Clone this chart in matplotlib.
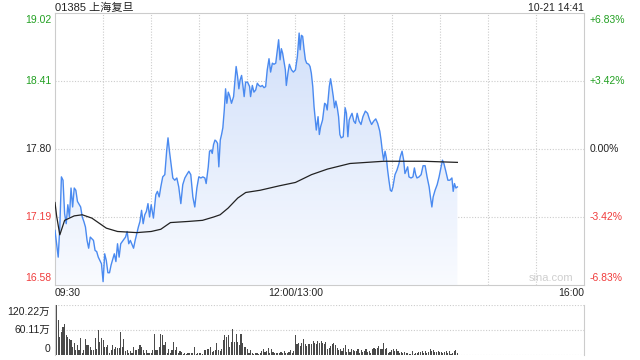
import numpy as np
import matplotlib.pyplot as plt
import matplotlib.transforms as mtransforms
from matplotlib.colors import LinearSegmentedColormap

plt.rcParams['font.family'] = ['Liberation Sans', 'Noto Sans CJK SC']

# 分时价格 (交易分钟, 价格)
price_t = [0, 2, 3, 4, 5, 6, 7, 8, 9, 10, 11, 12, 13, 14, 16, 17, 18, 19, 20, 21, 22, 24, 25, 26, 27,
           29, 30, 31, 32, 33, 34, 35, 37, 38, 39, 40, 41, 42, 44, 45, 46, 47, 49, 50, 51, 52, 53, 54,
           55, 56, 57, 58, 59,
           60.0, 61.4, 62.9, 63.9, 65.0, 66.0, 67.2, 68.5, 69.7, 70.5, 71.4, 72.6, 73.5, 74.7, 76.0,
           77.2, 78.5, 79.7, 81.0, 82.2, 83.5, 84.7, 86.0, 87.2, 88.5, 89.7, 91.0, 92.2, 93.5, 94.3,
           95.6, 96.4, 97.3, 98.1, 98.9, 99.8, 100.6, 101.4, 102.2, 103.1, 103.9, 104.7, 105.6, 106.4,
           107.2, 108.1, 108.9, 110.1, 111.4, 112.2, 113.0, 113.9, 114.7, 115.5, 116.4, 117.2, 118.0,
           118.9, 120.1, 121.4,
           122.0, 123.1, 124.1, 125.2, 126.2, 127.2, 128.3, 129.3, 130.4, 131.4, 132.4, 133.5, 134.5,
           135.6, 136.6, 137.7, 138.7, 139.5, 140.4, 141.2, 142.0, 142.9, 143.7, 144.3, 145.4, 146.2,
           147.5, 148.7, 150.0, 151.2, 152.3, 152.9, 153.7, 154.5, 155.4, 156.2, 157.0, 158.3, 159.1,
           159.9, 160.8, 161.6, 162.4, 163.0, 164.1, 164.9, 165.7, 166.9, 168.2, 169.0, 169.8, 171.1,
           171.9, 172.7, 173.6, 174.4, 175.2, 176.1, 176.9, 177.7, 178.5, 179.8, 181.0, 181.8, 182.7,
           183.5,
           184.3, 185.3, 186.4, 187.4, 188.5, 189.7, 190.9, 192.1, 193.6, 195.0, 196.3, 197.5, 198.8,
           200.1, 201.3, 202.6, 203.4, 204.2, 205.0, 205.9, 206.7, 207.5, 208.3, 209.2, 210.0, 210.8,
           212.1, 213.3, 214.6, 215.4, 216.5, 217.5, 218.3, 219.2, 220.0, 220.8, 222.1, 223.3, 224.2,
           225.0, 225.8, 227.1, 228.4, 229.6, 230.9, 232.1, 233.4, 234.2, 235.1, 235.9, 237.1, 238.4,
           239.6, 240.9, 241.7, 242.6, 243.8, 245.1, 246.3, 247.6, 248.4, 249.2, 250.1, 251.0]
price = [17.07, 16.83, 17.10, 17.55, 17.52, 17.22, 17.13, 17.30, 17.19, 17.45, 17.28, 17.45, 17.43,
         17.33, 17.28, 17.19, 17.15, 17.10, 16.98, 16.91, 17.01, 16.98, 16.89, 16.88, 16.83, 16.77,
         16.61, 16.86, 16.80, 16.69, 16.69, 16.76, 16.86, 16.79, 16.95, 16.83, 16.95, 16.97, 17.01,
         17.06, 16.95, 16.98, 16.91, 16.98, 17.04, 17.10, 17.15, 17.25, 17.13, 17.21, 17.24, 17.31,
         17.19,
         17.30, 17.18, 17.39, 17.42, 17.37, 17.46, 17.55, 17.57, 17.79, 17.90, 17.78, 17.64, 17.54,
         17.52, 17.54, 17.46, 17.31, 17.48, 17.54, 17.57, 17.60, 17.57, 17.37, 17.28, 17.45, 17.55,
         17.54, 17.55, 17.54, 17.49, 17.64, 17.78, 17.79, 17.76, 17.84, 17.88, 17.87, 17.85, 17.64,
         17.88, 17.93, 17.99, 18.15, 18.34, 18.21, 18.31, 18.28, 18.21, 18.27, 18.40, 18.54, 18.45,
         18.34, 18.42, 18.46, 18.37, 18.27, 18.40, 18.40, 18.36,
         18.27, 18.37, 18.31, 18.33, 18.39, 18.37, 18.36, 18.37, 18.35, 18.36, 18.51, 18.61, 18.49,
         18.57, 18.56, 18.57, 18.69, 18.78, 18.60, 18.70, 18.66, 18.58, 18.51, 18.37, 18.49, 18.56,
         18.51, 18.49, 18.51, 18.63, 18.84, 18.69, 18.82, 18.81, 18.69, 18.60, 18.57, 18.56, 18.54,
         18.48, 18.36, 18.18, 18.06, 17.97, 18.09, 17.93, 18.00, 18.06, 18.21, 18.20, 18.15, 18.36,
         18.43, 18.36, 18.27, 18.17, 18.23, 18.17, 18.09, 17.93, 17.90, 17.91, 18.17, 18.12, 17.91,
         18.06,
         18.09, 18.12, 18.05, 18.03, 18.12, 18.05, 18.02, 18.09, 18.14, 18.12, 18.06, 18.02, 18.05,
         18.07, 18.03, 17.96, 17.88, 17.78, 17.70, 17.78, 17.72, 17.61, 17.52, 17.43, 17.42, 17.46,
         17.57, 17.61, 17.67, 17.73, 17.78, 17.70, 17.58, 17.61, 17.64, 17.55, 17.54, 17.55, 17.63,
         17.57, 17.54, 17.55, 17.57, 17.65, 17.65, 17.55, 17.46, 17.37, 17.28, 17.37, 17.43, 17.48,
         17.55, 17.64, 17.70, 17.67, 17.60, 17.52, 17.52, 17.54, 17.42, 17.49, 17.45, 17.46]

# 均价线
avg_t = [0, 1, 3, 6, 12, 17, 23, 28, 32, 39, 51, 60, 66, 72, 83, 92, 99, 103, 108, 114, 119, 128,
         140, 150, 160, 170, 184, 205, 230, 251]
avg_p = [17.32, 17.20, 17.03, 17.16, 17.20, 17.21, 17.18, 17.13, 17.09, 17.06, 17.05, 17.06, 17.08,
         17.14, 17.15, 17.16, 17.19, 17.21, 17.27, 17.36, 17.41, 17.43, 17.47, 17.50, 17.57, 17.62,
         17.67, 17.69, 17.69, 17.68]

# 成交量 (万股), 每分钟一根
volume = [84, 120, 84, 43, 55, 67, 74, 47, 43, 39,
          37, 19, 28, 11, 23, 12, 41, 6, 12, 39,
          23, 25, 20, 11, 11, 41, 15, 59, 31, 41,
          37, 19, 19, 25, 6, 12, 23, 15, 19, 17,
          17, 55, 19, 39, 9, 12, 6, 9, 6, 19,
          11, 12, 15, 25, 19, 12, 6, 12, 4, 5,
          6, 11, 51, 12, 11, 19, 51, 47, 23, 31,
          6, 15, 4, 11, 31, 12, 19, 6, 9, 8, 3, 5,
          2, 4, 6, 6, 6, 19, 2, 4, 6, 4,
          2, 12, 12, 15, 15, 19, 8, 10, 12, 28, 12, 9,
          15, 35, 47, 43, 47, 20, 31, 63, 31, 50,
          31, 23, 50, 28, 19, 20, 15, 6, 11, 6,
          2, 5, 4,
          2, 6, 10, 14, 8, 10, 18, 6, 14, 8, 6, 4, 6, 6, 8, 6, 10, 4, 6, 8, 12, 6, 10,
          47, 26, 30, 22, 30, 38, 26, 22, 26, 26, 26, 34, 30, 26, 34, 30,
          34, 30, 26, 32, 14, 18, 22, 26, 28, 24,
          16, 11, 14, 10, 18, 24, 8, 14, 8, 14, 12, 9,
          10, 14, 6, 11, 8, 10, 14, 8, 10, 6,
          14, 18, 14, 18, 22, 14, 14, 30, 14, 18, 5, 7,
          11, 14, 10, 14, 10, 6, 8, 6, 8, 6,
          6, 3, 3, 10, 3, 6, 6, 8, 8, 10, 4, 9,
          6, 8, 14, 10, 11, 8, 8, 10, 8, 7, 6, 8,
          10, 6, 10, 3, 6, 10, 11, 6]

price_ticks = [16.58, 17.19, 17.80, 18.41, 19.02]
price_labels = ['16.58', '17.19', '17.80', '18.41', '19.02']
pct_labels = ['-6.83%', '-3.42%', '0.00%', '+3.42%', '+6.83%']
tick_colors = ['#f03c3c', '#f03c3c', '#222222', '#22a022', '#22a022']
time_ticks = [0, 150, 330]
time_labels = ['09:30', '12:00/13:00', '16:00']
vol_ticks = [0, 60.11, 120.22]
vol_labels = ['0', '60.11万', '120.22万']

grid_c = '#cccccc'
fig = plt.figure(figsize=(6.4, 3.6), dpi=100)
ax = fig.add_axes([55/640, 75/360, 529/640, 272/360])
vx = fig.add_axes([55/640, 5/360, 529/640, 50/360])

ax.set_xlim(0, 330)
ax.set_ylim(16.58, 19.02)
for s in ax.spines.values():
    s.set_color(grid_c)
    s.set_linewidth(0.8)
ax.set_xticks([])
ax.set_yticks([])
for y in price_ticks[1:-1]:
    ax.axhline(y, color=grid_c, lw=0.8, ls=(0, (1, 1.5)), zorder=0)
for x in range(30, 330, 30):
    ax.axvline(x, color=grid_c, lw=0.8, ls=(0, (1, 1.5)), zorder=0)

# 渐变填充
poly = ax.fill_between(price_t, price, 16.58, color='none', lw=0)
cmap = LinearSegmentedColormap.from_list('fill', ['#f9fbff', '#cfdef9'])
grad = np.linspace(0, 1, 256).reshape(-1, 1)
img = ax.imshow(grad, extent=[0, 330, 16.58, 19.02], aspect='auto', cmap=cmap,
                origin='lower', zorder=1)
img.set_clip_path(poly.get_paths()[0], transform=ax.transData)

ax.plot(price_t, price, color='#4a8af0', lw=1.0, zorder=3)
ax.plot(avg_t, avg_p, color='#222222', lw=0.9, zorder=4)

# 左右刻度文字
ytr = ax.get_yaxis_transform()
for i, (y, lab, pct, c) in enumerate(zip(price_ticks, price_labels, pct_labels, tick_colors)):
    va = 'top' if i == len(price_ticks) - 1 else ('bottom' if i == 0 else 'center')
    dy = -2 if va == 'top' else (2 if va == 'bottom' else 0)
    tl = mtransforms.offset_copy(ytr, fig=fig, x=-4, y=dy, units='dots')
    tr = mtransforms.offset_copy(ytr, fig=fig, x=6, y=dy, units='dots')
    ax.text(0, y, lab, color=c, ha='right', va=va, fontsize=7.5, transform=tl)
    ax.text(1, y, pct, color=c, ha='left', va=va, fontsize=7.5, transform=tr)

xtr = mtransforms.offset_copy(ax.get_xaxis_transform(), fig=fig, y=-8, units='dots')
for x, lab in zip(time_ticks, time_labels):
    ha = 'left' if x == 0 else ('right' if x == 330 else 'center')
    ax.text(x, 0, lab, ha=ha, va='center', fontsize=7.5, color='#222222', transform=xtr)

ax.text(0.98, 0.008, 'sina.com', transform=ax.transAxes, ha='right', va='bottom',
        fontsize=8, color='#cfcfcf')

fig.text(55/640, 1 - 8/360, '01385 上海复旦', ha='left', va='center', fontsize=8, color='#222222')
fig.text(584/640, 1 - 8/360, '10-21 14:41', ha='right', va='center', fontsize=7.5, color='#222222')

# 成交量
vx.set_xlim(0, 330)
vx.set_ylim(0, 120.22)
vx.bar(np.arange(len(volume)), volume, width=0.7, color='#4a4a4a', lw=0, zorder=2)
for k in ['left', 'right']:
    vx.spines[k].set_color(grid_c)
    vx.spines[k].set_linewidth(0.8)
vx.spines['top'].set_visible(False)
vx.spines['bottom'].set_visible(False)
for y in vol_ticks:
    vx.axhline(y, color=grid_c, lw=0.8, ls=(0, (1, 1.5)), zorder=0)
vx.set_xticks([])
vx.set_yticks([])
vtr = vx.get_yaxis_transform()
for i, (y, lab) in enumerate(zip(vol_ticks, vol_labels)):
    va = 'top' if i == 2 else ('bottom' if i == 0 else 'center')
    dy = -2 if va == 'top' else (1 if va == 'bottom' else 0)
    t = mtransforms.offset_copy(vtr, fig=fig, x=-5, y=dy, units='dots')
    vx.text(0, y, lab, ha='right', va=va, fontsize=7.5, color='#222222', transform=t)

fig.savefig('out.png', dpi=100)
